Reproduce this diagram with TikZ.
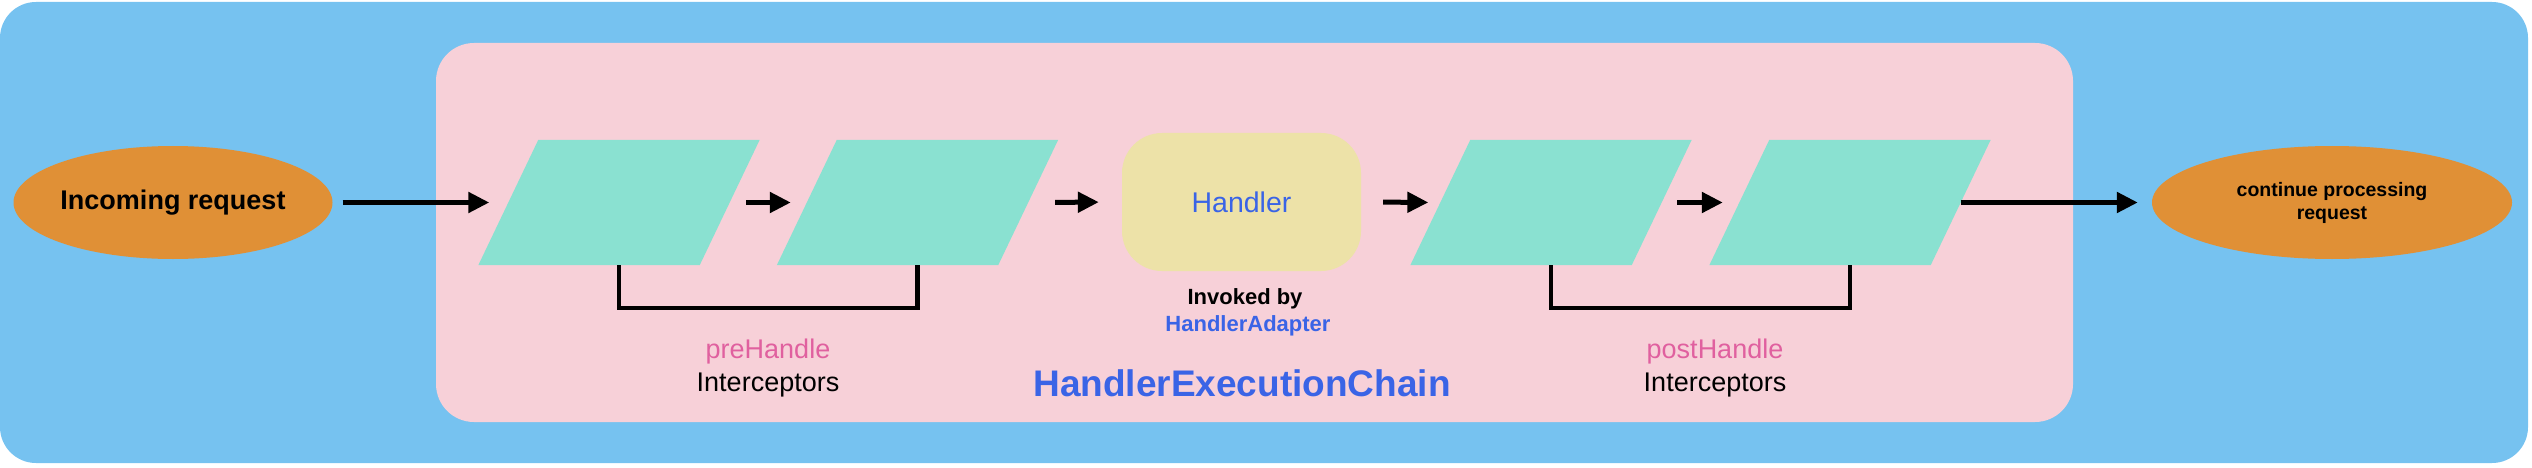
\documentclass[tikz,border=0pt]{standalone}
\usepackage{fontspec}
\setmainfont{Liberation Sans}
\usetikzlibrary{arrows.meta,shapes.geometric,calc}
\definecolor{bgblue}{HTML}{76C2F0}
\definecolor{chainpink}{HTML}{F7D0D8}
\definecolor{interteal}{HTML}{8AE1D1}
\definecolor{endorange}{HTML}{E09036}
\definecolor{handleryellow}{HTML}{EDE2A8}
\definecolor{textblue}{HTML}{3A64E6}
\definecolor{textpink}{HTML}{E0609F}
\tikzset{
  endpoint/.style={ellipse, fill=endorange, draw=none, inner sep=0pt, align=center},
  interbox/.style={rectangle, draw=none, minimum width=221pt, minimum height=125pt, inner sep=0pt},
  handlerbox/.style={rectangle, rounded corners=40pt, fill=handleryellow, draw=none,
     minimum width=239pt, minimum height=138pt, inner sep=0pt},
  flow/.style={line width=5pt, -{Triangle[length=21pt,width=20pt]}},
  bracketline/.style={line width=4.5pt},
  lbl/.style={anchor=base, inner sep=0pt},
}
\begin{document}
\begin{tikzpicture}[x=1pt,y=-1pt]
\useasboundingbox (0,0) rectangle (2532,468);
% backgrounds
\fill[bgblue, rounded corners=36pt] (0,2) rectangle (2528,463);
\fill[chainpink, rounded corners=38pt] (436,43) rectangle (2073,422);

% endpoints
\node[endpoint, minimum width=319pt, minimum height=113pt,
      font=\fontsize{27}{32}\selectfont\bfseries] (inreq) at (173,202.5) {Incoming request};
\node[endpoint, minimum width=360pt, minimum height=113pt,
      font=\fontsize{19.5}{23}\selectfont\bfseries] (cont) at (2332,202.5) {continue processing\\request};

% interceptors
\node[interbox] (p1) at (619,202.5) {};
\node[interbox] (p2) at (917.5,202.5) {};
\node[interbox] (p3) at (1551,202.5) {};
\node[interbox] (p4) at (1850,202.5) {};
\foreach \n in {p1,p2,p3,p4}{
  \fill[interteal] ($(\n.north west)+(30,0)$) -- ($(\n.north east)+(30,0)$)
     -- ($(\n.south east)+(-30,0)$) -- ($(\n.south west)+(-30,0)$) -- cycle;
}

% handler
\node[handlerbox, text=textblue, font=\fontsize{28.5}{34}\selectfont] (handler) at (1241.5,202) {Handler};

% flow arrows
\draw[flow, shorten <=10pt, shorten >=19pt] (inreq.east) -- (p1.west);
\draw[flow, shorten <=16.5pt, shorten >=16pt] (p1.east) -- (p2.west);
\draw[flow, shorten <=27pt, shorten >=23pt] (p2.east) -- (handler.west);
\draw[flow, shorten <=22pt, shorten >=12pt] (handler.east) -- (p3.west);
\draw[flow, shorten <=15.5pt, shorten >=16.5pt] (p3.east) -- (p4.west);
\draw[flow, shorten <=0pt, shorten >=14pt] (p4.east) -- (cont.west);

% brackets
\draw[bracketline] (p1.south) -- ++(0,43) -| (p2.south);
\draw[bracketline] (p3.south) -- ++(0,43) -| (p4.south);

% labels
\node[lbl, text=textpink, font=\fontsize{27}{32}\selectfont] (preh) at (768,358) {preHandle};
\node[lbl, font=\fontsize{27}{32}\selectfont] (prei) at (768,391) {Interceptors};
\node[lbl, text=textpink, font=\fontsize{27}{32}\selectfont] (posth) at (1715,358) {postHandle};
\node[lbl, font=\fontsize{27}{32}\selectfont] (posti) at (1715,391) {Interceptors};
\node[lbl, font=\fontsize{22}{26}\selectfont\bfseries] (invk) at (1245,304) {Invoked by};
\node[lbl, text=textblue, font=\fontsize{22}{26}\selectfont\bfseries] (adapt) at (1248,331) {HandlerAdapter};
\node[lbl, text=textblue, font=\fontsize{37}{44}\selectfont\bfseries] (chain) at (1242,396) {HandlerExecutionChain};
\end{tikzpicture}
\end{document}
